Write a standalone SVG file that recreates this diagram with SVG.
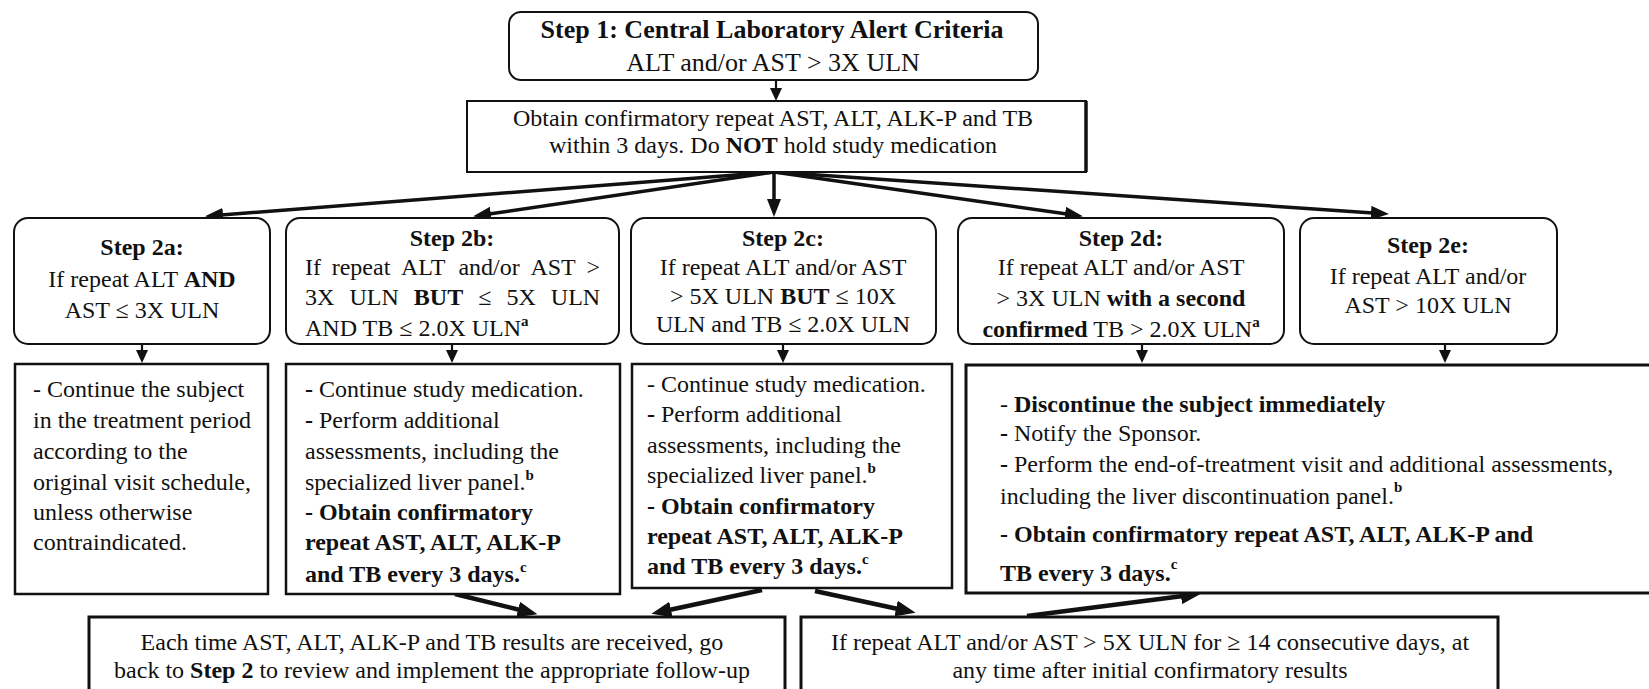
<svg xmlns="http://www.w3.org/2000/svg" width="1649" height="689" viewBox="0 0 1649 689">
<style>
text{font-family:"Liberation Serif","Times New Roman",serif;fill:#111;font-size:24px}
.t{font-size:26px}
.b{font-weight:bold}
.c{text-anchor:middle}
.sup{font-size:15px}
.rbox{fill:#fff;stroke:#111;stroke-width:2}
.box{fill:#fff;stroke:#111;stroke-width:2.5}
.hbox{fill:#fff;stroke:#111;stroke-width:3}
.ln{stroke:#111;fill:none}
.thin{stroke-width:2.2;marker-end:url(#as)}
.mid{stroke-width:3.5;marker-end:url(#am)}
.thick{stroke-width:4.5;marker-end:url(#al)}
</style>
<defs>
<marker id="as" markerUnits="userSpaceOnUse" markerWidth="13" markerHeight="12" refX="2" refY="6" orient="auto"><path d="M0,0L13,6L0,12z" fill="#111"/></marker>
<marker id="am" markerUnits="userSpaceOnUse" markerWidth="18" markerHeight="14" refX="2" refY="7" orient="auto"><path d="M0,0L18,7L0,14z" fill="#111"/></marker>
<marker id="al" markerUnits="userSpaceOnUse" markerWidth="20" markerHeight="16" refX="2" refY="8" orient="auto"><path d="M0,0L20,8L0,16z" fill="#111"/></marker>
</defs>
<rect width="1649" height="689" fill="#fff"/>

<g id="connectors">
<line class="ln thin" x1="776" y1="80" x2="776" y2="90"/>
<line class="ln mid" x1="774" y1="172" x2="221" y2="215"/>
<line class="ln mid" x1="774" y1="172" x2="489" y2="214"/>
<line class="ln mid" x1="774" y1="172" x2="774" y2="201"/>
<line class="ln mid" x1="774" y1="172" x2="1067" y2="214"/>
<line class="ln mid" x1="774" y1="172" x2="1373" y2="213"/>
<line class="ln thin" x1="142" y1="344" x2="142" y2="352"/>
<line class="ln thin" x1="452" y1="344" x2="452" y2="352"/>
<line class="ln thin" x1="783" y1="344" x2="783" y2="352"/>
<line class="ln thin" x1="1142" y1="344" x2="1142" y2="352"/>
<line class="ln thin" x1="1445" y1="344" x2="1445" y2="352"/>
<line class="ln thick" x1="455" y1="594" x2="520" y2="610"/>
<line class="ln thick" x1="762" y1="590" x2="669" y2="610"/>
<line class="ln thick" x1="815" y1="591" x2="898" y2="609"/>
<line class="ln thick" x1="1027" y1="616" x2="1183" y2="596"/>
</g>

<g id="step1">
<rect class="rbox" x="509" y="12" width="529" height="68" rx="12"/>
<text class="t b c" x="772" y="38">Step 1: Central Laboratory Alert Criteria</text>
<text class="t c" x="773" y="71">ALT and/or AST &gt; 3X ULN</text>
</g>

<g id="obtain">
<rect class="rbox" x="467" y="101" width="619" height="71"/>
<line x1="1086" y1="101" x2="1086" y2="172" stroke="#111" stroke-width="3.5"/>
<text class="c" x="773" y="126">Obtain confirmatory repeat AST, ALT, ALK-P and TB</text>
<text class="c" x="773" y="153">within 3 days. Do <tspan class="b">NOT</tspan> hold study medication</text>
</g>

<g id="step2a">
<rect class="rbox" x="14" y="218" width="256" height="126" rx="14"/>
<text class="b c" x="142" y="255">Step 2a:</text>
<text class="c" x="142" y="287">If repeat ALT <tspan class="b">AND</tspan></text>
<text class="c" x="142" y="318">AST ≤ 3X ULN</text>
</g>

<g id="step2b">
<rect class="rbox" x="286" y="218" width="333" height="126" rx="14"/>
<text class="b c" x="452" y="246">Step 2b:</text>
<text y="275"><tspan x="305">If</tspan><tspan x="331.7">repeat</tspan><tspan x="401">ALT</tspan><tspan x="458.4">and/or</tspan><tspan x="530.4">AST</tspan><tspan x="586.4">&gt;</tspan></text>
<text y="305"><tspan x="305">3X</tspan><tspan x="349.4">ULN</tspan><tspan x="413.8" class="b">BUT</tspan><tspan x="478.2">≤</tspan><tspan x="506.4">5X</tspan><tspan x="550.8">ULN</tspan></text>
<text x="305" y="336">AND TB ≤ 2.0X ULN<tspan class="sup b" dy="-10">a</tspan></text>
</g>

<g id="step2c">
<rect class="rbox" x="631" y="218" width="305" height="126" rx="14"/>
<text class="b c" x="783" y="246">Step 2c:</text>
<text class="c" x="783" y="275">If repeat ALT and/or AST</text>
<text class="c" x="783" y="304">&gt; 5X ULN <tspan class="b">BUT</tspan> ≤ 10X</text>
<text class="c" x="783" y="332">ULN and TB ≤ 2.0X ULN</text>
</g>

<g id="step2d">
<rect class="rbox" x="958" y="218" width="326" height="126" rx="14"/>
<text class="b c" x="1121" y="246">Step 2d:</text>
<text class="c" x="1121" y="275">If repeat ALT and/or AST</text>
<text class="c" x="1121" y="306">&gt; 3X ULN <tspan class="b">with a second</tspan></text>
<text class="c" x="1121" y="337"><tspan class="b">confirmed</tspan> TB &gt; 2.0X ULN<tspan class="sup b" dy="-10">a</tspan></text>
</g>

<g id="step2e">
<rect class="rbox" x="1300" y="218" width="257" height="126" rx="14"/>
<text class="b c" x="1428" y="253">Step 2e:</text>
<text class="c" x="1428" y="284">If repeat ALT and/or</text>
<text class="c" x="1428" y="313">AST &gt; 10X ULN</text>
</g>

<g id="action2a">
<rect class="box" x="15" y="364" width="253" height="230"/>
<text x="33" y="397">- Continue the subject</text>
<text x="33" y="428">in the treatment period</text>
<text x="33" y="459">according to the</text>
<text x="33" y="490">original visit schedule,</text>
<text x="33" y="520">unless otherwise</text>
<text x="33" y="550">contraindicated.</text>
</g>

<g id="action2b">
<rect class="box" x="286" y="364" width="334" height="230"/>
<text x="305" y="397"><tspan class="b">-</tspan> Continue study medication.</text>
<text x="305" y="428"><tspan class="b">-</tspan> Perform additional</text>
<text x="305" y="459">assessments, including the</text>
<text x="305" y="490">specialized liver panel.<tspan class="sup b" dy="-10">b</tspan></text>
<text class="b" x="305" y="520">- Obtain confirmatory</text>
<text class="b" x="305" y="550">repeat AST, ALT, ALK-P</text>
<text class="b" x="305" y="582">and TB every 3 days.<tspan class="sup" dy="-10">c</tspan></text>
</g>

<g id="action2c">
<rect class="box" x="632" y="364" width="320" height="224"/>
<text x="647" y="392">- Continue study medication.</text>
<text x="647" y="422"><tspan class="b">-</tspan> Perform additional</text>
<text x="647" y="453">assessments, including the</text>
<text x="647" y="483">specialized liver panel.<tspan class="sup b" dy="-10">b</tspan></text>
<text class="b" x="647" y="514">- Obtain confirmatory</text>
<text class="b" x="647" y="544">repeat AST, ALT, ALK-P</text>
<text class="b" x="647" y="574">and TB every 3 days.<tspan class="sup" dy="-10">c</tspan></text>
</g>

<g id="action2de">
<rect class="hbox" x="966" y="365" width="700" height="228"/>
<text x="1000" y="412">- <tspan class="b">Discontinue the subject immediately</tspan></text>
<text x="1000" y="441"><tspan class="b">-</tspan> Notify the Sponsor.</text>
<text x="1000" y="472"><tspan class="b">-</tspan> Perform the end-of-treatment visit and additional assessments,</text>
<text x="1000" y="504">including the liver discontinuation panel.<tspan class="sup b" dy="-12">b</tspan></text>
<text class="b" x="1000" y="542">- Obtain confirmatory repeat AST, ALT, ALK-P and</text>
<text class="b" x="1000" y="581">TB every 3 days.<tspan class="sup" dy="-12">c</tspan></text>
</g>

<g id="followup">
<rect class="hbox" x="89" y="617" width="696" height="100"/>
<text class="c" x="432" y="650">Each time AST, ALT, ALK-P and TB results are received, go</text>
<text class="c" x="432" y="678">back to <tspan class="b">Step 2</tspan> to review and implement the appropriate follow-up</text>
</g>

<g id="persist">
<rect class="hbox" x="801" y="617" width="697" height="100"/>
<text class="c" x="1150" y="650">If repeat ALT and/or AST &gt; 5X ULN for ≥ 14 consecutive days, at</text>
<text class="c" x="1150" y="678">any time after initial confirmatory results</text>
</g>
</svg>
